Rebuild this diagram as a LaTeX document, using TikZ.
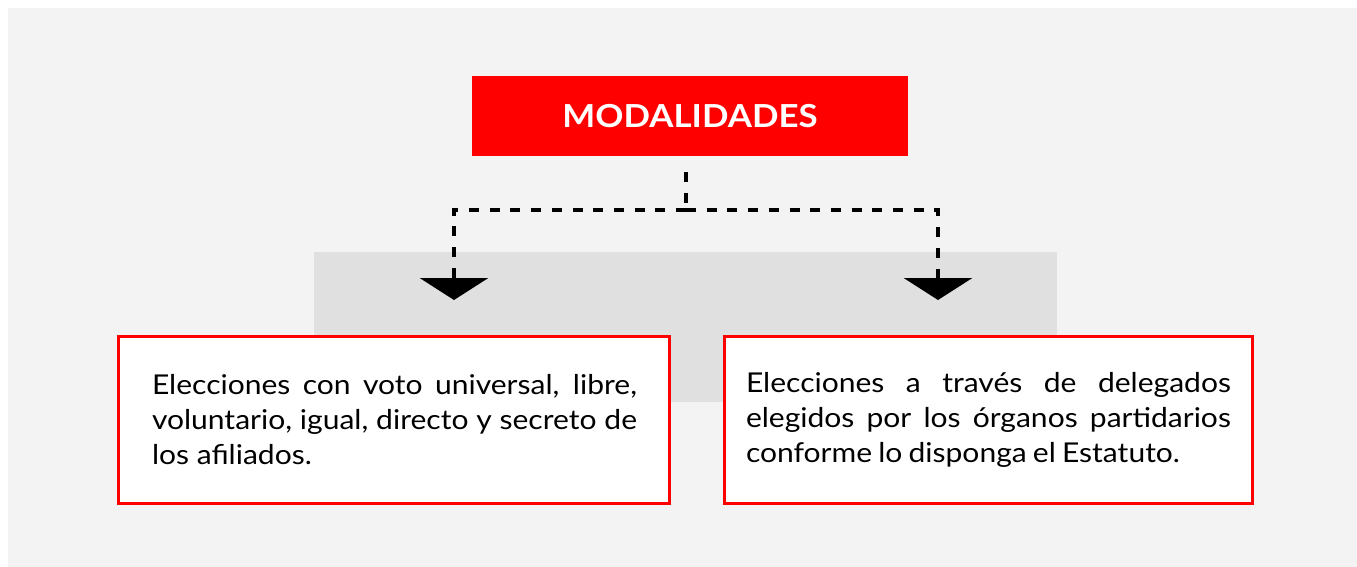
\documentclass[tikz,border=0pt]{standalone}
\usepackage{fontspec}
\setmainfont[FakeStretch=1.1]{Lato}
\usetikzlibrary{arrows.meta}
\definecolor{bgpage}{HTML}{F3F3F3}
\definecolor{band}{HTML}{E0E0E0}
\definecolor{mred}{HTML}{FF0000}
\tikzset{
  titlebox/.style={fill=mred, text=white, font=\fontsize{31.7}{36}\selectfont\bfseries, minimum width=436pt, minimum height=80pt, inner sep=0pt},
  textbox/.style={draw=mred, line width=3pt, fill=white, inner sep=0pt},
  bodytext/.style={font=\fontsize{27.3}{35}\selectfont, text width=485pt, align=justify, inner sep=0pt},
  dashline/.style={line width=4pt, dash pattern=on 10pt off 10.7pt, -{Triangle[width=68pt,length=22pt]}},
  dashplain/.style={line width=4pt, dash pattern=on 10pt off 10.7pt}
}
\begin{document}
\begin{tikzpicture}[x=1pt,y=-1pt]
\useasboundingbox (0,0) rectangle (1357,567);
\fill[bgpage] (8,8) rectangle (1357,567);
\fill[band] (314,252) rectangle (1057,402);
\node[titlebox] (title) at (690,116) {MODALIDADES};
\node[textbox, minimum width=551pt, minimum height=167pt] (left) at (393.5,419.5) {};
\node[textbox, minimum width=528pt, minimum height=167pt] (right) at (988,419.5) {};
\node[bodytext] (lt) at (394.5,420) {Elecciones con voto universal, libre,\linebreak voluntario, igual, directo y secreto de\linebreak los afiliados.\par};
\node[bodytext] (rt) at (988.5,420) {Elecciones a través de delegados\linebreak elegidos por los órganos partidarios\linebreak \spaceskip=0.8\fontdimen2\font conforme lo disponga el Estatuto.\par};
\coordinate (top) at (686,172);
\coordinate (mid) at (686,210);
\coordinate (tipL) at (454,300);
\coordinate (tipR) at (938,300);
\draw[dashplain] (top) -- (mid);
\draw[dashline] (mid) -| (tipL);
\draw[dashline] (mid) -| (tipR);
\end{tikzpicture}
\end{document}
